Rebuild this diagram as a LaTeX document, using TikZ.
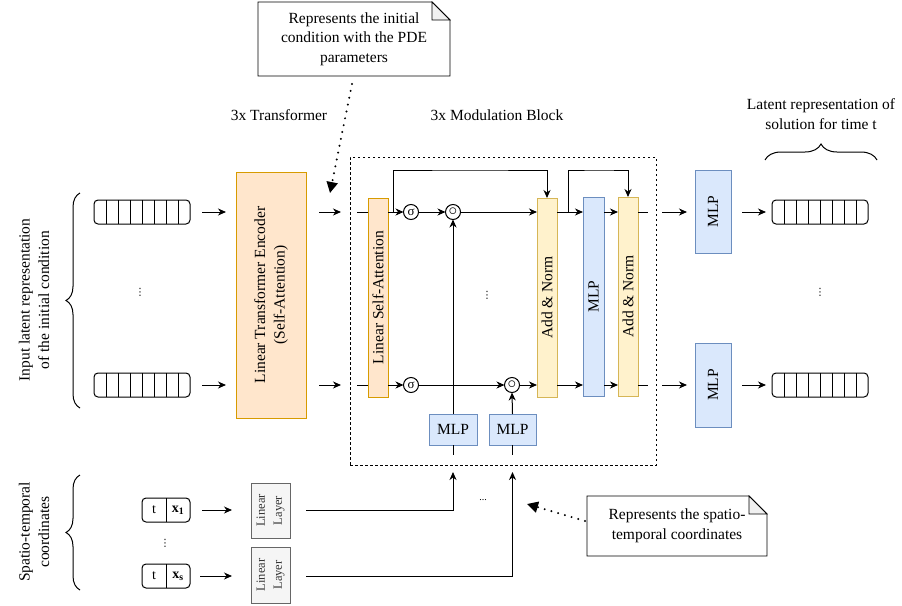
\documentclass[tikz,border=0pt]{standalone}
\usepackage{fontspec}
\setmainfont{Liberation Serif}
\newfontfamily\djv{DejaVu Sans}
\usetikzlibrary{arrows.meta,calc,decorations.pathreplacing}
\definecolor{orf}{HTML}{FFE6CC}\definecolor{ord}{HTML}{D79B00}
\definecolor{yef}{HTML}{FFF2CC}\definecolor{yed}{HTML}{D6B656}
\definecolor{blf}{HTML}{DAE8FC}\definecolor{bld}{HTML}{6C8EBF}
\definecolor{grf}{HTML}{F5F5F5}\definecolor{grd}{HTML}{666666}\definecolor{grt}{HTML}{333333}
\newcommand\tokrow[3]{%
  \node[tok] (#1) at (#2,#3) {};
  \foreach \k in {1,...,7}{\draw ($(#1.north west)+(\k*12,0)$) -- ($(#1.south west)+(\k*12,0)$);}
}
\newcommand\coordrow[4]{%
  \node[cbox] (#1) at (#2,#3) {};
  \draw ($(#1.north west)+(24,0)$) -- ($(#1.south west)+(24,0)$);
  \node[ctext] (#1t) at ($(#1.center)+(-12,0)$) {t};
  \node[ctext] (#1x) at ($(#1.center)+(12,0)$) {#4};
}
\newcommand\notefold[1]{%
  \draw[line width=0.8pt] (#1.north west) -- ([xshift=-18pt]#1.north east) -- ([yshift=-18pt]#1.north east) -- (#1.south east) -- (#1.south west) -- cycle;
  \filldraw[line width=0.8pt,fill=gray!12] ([xshift=-18pt]#1.north east) -- ([xshift=-18pt,yshift=-18pt]#1.north east) -- ([yshift=-18pt]#1.north east) -- cycle;
}
\tikzset{
  arr/.style={line width=1pt,-{Stealth[length=8pt,width=7pt,inset=2.5pt]}},
  ln/.style={line width=1pt},
  dotarr/.style={line width=2.2pt,dash pattern=on 0pt off 7pt,line cap=round,-{Triangle[length=11pt,width=11pt]}},
  tok/.style={draw,line width=1pt,rounded corners=4pt,minimum width=96pt,minimum height=24pt,outer sep=0pt,inner sep=0pt},
  cbox/.style={draw,line width=1pt,rounded corners=4pt,minimum width=48pt,minimum height=24pt,outer sep=0pt,inner sep=0pt},
  ctext/.style={inner sep=0pt,font=\fontsize{14}{16}\selectfont},
  vbox/.style={draw,line width=1pt,outer sep=0pt,inner sep=0pt,rotate=90,align=center},
  orange/.style={vbox,fill=orf,draw=ord},
  yellow/.style={vbox,fill=yef,draw=yed},
  blue/.style={vbox,fill=blf,draw=bld},
  hblue/.style={draw=bld,fill=blf,line width=1pt,outer sep=0pt,inner sep=0pt},
  grey/.style={vbox,fill=grf,draw=grd,text=grt,font=\fontsize{12.5}{17}\selectfont},
  op/.style={circle,draw,line width=1pt,minimum size=15pt,inner sep=0pt,outer sep=0pt,font=\fontsize{13}{13}\selectfont},
  notetext/.style={inner sep=0pt,outer sep=0pt,align=center},
  lbl/.style={align=center,inner sep=0pt},
  dots/.style={inner sep=0pt,font=\djv\fontsize{10}{10}\selectfont},
  brc/.style={line width=1pt,decorate,decoration={brace,amplitude=14pt}},
}
\begin{document}
\begin{tikzpicture}[x=1pt,y=-1pt,font=\fontsize{15.5}{19.5}\selectfont]
\useasboundingbox (0,0) rectangle (902,605);

% top note
\node[notetext,minimum width=192pt,minimum height=74pt] (note1) at (354,39) {Represents the initial\\condition with the PDE\\parameters};
\notefold{note1}
\coordinate (n1tip) at (330,193);
\draw[dotarr] ([xshift=-2pt,yshift=-8pt]note1.south) -- (n1tip);

% titles
\node[lbl] (t1) at (279,115) {3x Transformer};
\node[lbl] (t2) at (497,115) {3x Modulation Block};
\node[lbl] (t3) at (821,114) {Latent representation of\\solution for time t};

% input tokens
\tokrow{in1}{142}{212}
\tokrow{in2}{142}{385}
\node[dots] (ind) at (140,292) {⋮};

% encoder (rotated: north = west side, south = east side, east = top)
\node[orange,minimum width=246pt,minimum height=70pt] (enc) at (271,295) {Linear Transformer Encoder\\(Self-Attention)};
\draw[arr,shorten <=12pt,shorten >=10pt] (in1.east) -- (in1 -| enc.north);
\draw[arr,shorten <=12pt,shorten >=10pt] (in2.east) -- (in2 -| enc.north);

% modulation block
\node[draw,line width=0.8pt,dash pattern=on 2.5pt off 2.5pt,minimum width=306pt,minimum height=308pt,outer sep=0pt] (mb) at (503,311) {};
\draw[arr,shorten <=13pt,shorten >=9pt] (in1 -| enc.south) -- (in1 -| mb.west);
\draw[arr,shorten <=13pt,shorten >=9pt] (in2 -| enc.south) -- (in2 -| mb.west);

\node[orange,minimum width=199pt,minimum height=20pt] (lsa) at (378,297.5) {Linear Self-Attention};
\node[yellow,minimum width=199pt,minimum height=20pt] (add1) at (547,297.5) {Add \& Norm};
\node[blue,minimum width=199pt,minimum height=21pt] (mlpm) at (593.5,296.5) {MLP};
\node[yellow,minimum width=199pt,minimum height=20pt] (add2) at (628,296.5) {Add \& Norm};

\node[op] (sig1) at (411,212) {σ};
\node[op] (dot1) at (453,212) {\fontsize{17}{17}\selectfont$\circ$};
\node[op] (sig2) at (411,385) {σ};
\node[op] (dot2) at (512,385) {\fontsize{17}{17}\selectfont$\circ$};

\node[hblue,minimum width=48pt,minimum height=31pt] (mlpa) at (453,429.5) {MLP};
\node[hblue,minimum width=47pt,minimum height=31pt] (mlpb) at (512.5,429.5) {MLP};
\node[dots] (mbd) at (487,295) {⋮};

% row 1
\draw[ln,shorten <=7pt] (sig1 -| mb.west) -- (sig1 -| lsa.north);
\draw[arr] (sig1 -| lsa.south) -- (sig1);
\draw[arr] (sig1) -- (dot1);
\draw[arr] (dot1) -- (dot1 -| add1.north);
\coordinate (s1) at (393,212);
\draw[arr] (s1) |- (470,170) -| (add1.east);
\draw[arr] (sig1 -| add1.south) -- (sig1 -| mlpm.north);
\coordinate (s2) at (568,212);
\draw[arr] (s2) |- (600,170) -| (add2.east);
\draw[arr] (sig1 -| mlpm.south) -- (sig1 -| add2.north);
\draw[ln,shorten >=8pt] (sig1 -| add2.south) -- (sig1 -| mb.east);

% row 2
\draw[ln,shorten <=7pt] (sig2 -| mb.west) -- (sig2 -| lsa.north);
\draw[arr] (sig2 -| lsa.south) -- (sig2);
\draw[arr] (sig2) -- (dot2);
\draw[arr] (dot2) -- (dot2 -| add1.north);
\draw[arr] (sig2 -| add1.south) -- (sig2 -| mlpm.north);
\draw[arr] (sig2 -| mlpm.south) -- (sig2 -| add2.north);
\draw[ln,shorten >=8pt] (sig2 -| add2.south) -- (sig2 -| mb.east);

% modulation MLPs
\draw[arr] (mlpa.north) -- (dot1.south);
\draw[arr] (mlpb.north) -- (dot2.south);
\draw[ln] (mlpa.south) -- ++(0,10);
\draw[ln] (mlpb.south) -- ++(0,10);

% right side
\node[blue,minimum width=83pt,minimum height=36pt] (mlpr1) at (713,211.5) {MLP};
\node[blue,minimum width=84pt,minimum height=36pt] (mlpr2) at (713,385) {MLP};
\tokrow{out1}{820}{212}
\tokrow{out2}{820}{385}
\node[dots] (outd) at (820,292) {⋮};
\draw[arr,shorten <=6pt,shorten >=8pt] (sig1 -| mb.east) -- (sig1 -| mlpr1.north);
\draw[arr,shorten <=6pt,shorten >=8pt] (sig2 -| mb.east) -- (sig2 -| mlpr2.north);
\draw[arr,shorten <=11pt,shorten >=6pt] (sig1 -| mlpr1.south) -- (out1.west);
\draw[arr,shorten <=11pt,shorten >=6pt] (sig2 -| mlpr2.south) -- (out2.west);
\draw[brc,decoration={amplitude=16pt}] (765,160) -- (877,160);

% left braces and labels
\draw[brc] (80,408) -- (80,193);
\node[lbl,rotate=90] (lab1) at (34,300) {Input latent representation\\of the initial condition};
\draw[brc] (80,590) -- (80,475);
\node[lbl,rotate=90] (lab2) at (34,532) {Spatio-temporal\\coordinates};

% coordinates
\coordrow{c1}{166}{510}{\textbf{x}\textsubscript{\textbf{1}}}
\coordrow{c2}{166}{576}{\textbf{x}\textsubscript{\textbf{s}}}
\node[dots] (cd) at (165,543) {⋮};
\node[grey,minimum width=55pt,minimum height=39pt] (ll1) at (270.5,510.5) {Linear\\Layer};
\node[grey,minimum width=56pt,minimum height=39pt] (ll2) at (270.5,575) {Linear\\Layer};
\draw[arr,shorten <=12pt,shorten >=19pt] (c1.east) -- (c1 -| ll1.north);
\draw[arr,shorten <=10pt,shorten >=19pt] (c2.east) -- (c2 -| ll2.north);
\draw[arr,shorten >=7pt] ([xshift=16pt]c1 -| ll1.south) -| (mlpa.south |- mb.south);
\draw[arr,shorten >=7pt] ([xshift=16pt]c2 -| ll2.south) -| (mlpb.south |- mb.south);
\node[inner sep=0pt,font=\fontsize{10}{10}\selectfont] (hd) at (483,500) {...};

% bottom note
\node[notetext,minimum width=180pt,minimum height=60pt] (note2) at (677,526) {Represents the spatio-\\temporal coordinates};
\notefold{note2}
\coordinate (n2tip) at (527,504);
\draw[dotarr] ([xshift=-2pt,yshift=5pt]note2.west) -- (n2tip);
\end{tikzpicture}
\end{document}
